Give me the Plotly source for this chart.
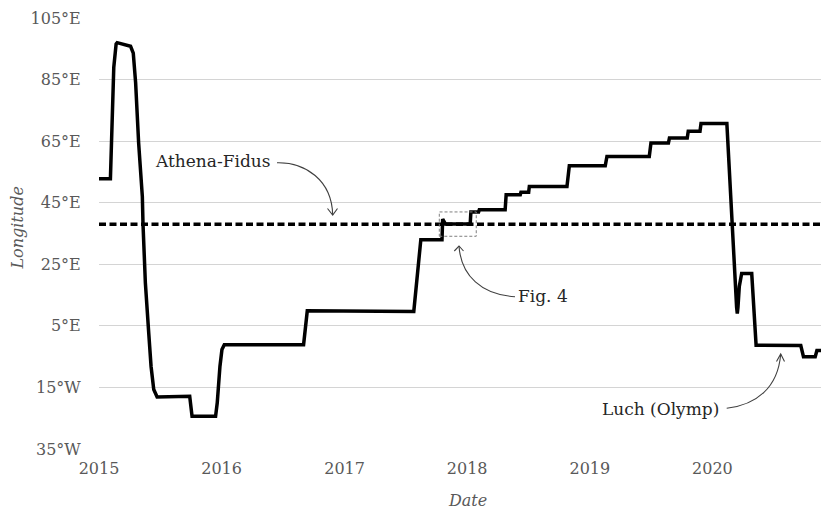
import plotly.graph_objects as go

# ---- data ----
dates = [
    "2015-01-01", "2015-02-04", "2015-02-14", "2015-02-21", "2015-02-24", "2015-04-05",
    "2015-04-13", "2015-04-20", "2015-04-29", "2015-05-10", "2015-05-12", "2015-05-19",
    "2015-05-29", "2015-06-05", "2015-06-13", "2015-06-23", "2015-09-28", "2015-10-05",
    "2015-12-14", "2015-12-19", "2015-12-27", "2016-01-02", "2016-01-09", "2016-09-01",
    "2016-09-12", "2017-07-26", "2017-08-16", "2017-10-18", "2017-10-20", "2017-10-28",
    "2018-01-10", "2018-01-12", "2018-02-04", "2018-02-06", "2018-04-24", "2018-04-27",
    "2018-06-08", "2018-06-10", "2018-07-03", "2018-07-05", "2018-10-25", "2018-11-01",
    "2019-02-16", "2019-02-21", "2019-06-27", "2019-07-02", "2019-08-23", "2019-08-26",
    "2019-10-18", "2019-10-21", "2019-11-25", "2019-11-28", "2020-02-13", "2020-02-23",
    "2020-02-27", "2020-03-08", "2020-03-13", "2020-03-15", "2020-03-17", "2020-03-21",
    "2020-03-28", "2020-04-27", "2020-05-02", "2020-05-10", "2020-09-20", "2020-09-28",
    "2020-11-02", "2020-11-07", "2020-12-31",
]
longitude = [
    52.8, 52.8, 89.0, 96.6, 97.0, 95.8,
    93.6, 84.0, 64.4, 47.0, 38.0, 19.0,
    2.7, -8.2, -15.7, -18.1, -17.9, -24.4,
    -24.4, -20.0, -8.2, -2.7, -1.1, -1.1,
    9.9, 9.7, 33.0, 33.0, 39.7, 38.1,
    38.1, 42.0, 42.0, 42.7, 42.7, 47.6,
    47.6, 48.4, 48.4, 50.3, 50.3, 57.0,
    57.0, 60.0, 60.0, 64.4, 64.4, 66.0,
    66.0, 68.2, 68.2, 70.7, 70.7, 49.0,
    38.0, 20.0, 11.0, 9.0, 11.0, 17.8,
    22.0, 22.0, 14.5, -1.3, -1.4, -5.0,
    -5.0, -3.0, -3.0,
]
athena_dates = ["2015-01-01", "2020-12-31"]
athena_lon = [38, 38]

y_tickvals = [-35, -15, 5, 25, 45, 65, 85, 105]
y_ticktext = ["35°W", "15°W", "5°E", "25°E", "45°E", "65°E", "85°E", "105°E"]
x_tickvals = ["2015-01-01", "2016-01-01", "2017-01-01", "2018-01-01", "2019-01-01", "2020-01-01"]
x_ticktext = ["2015", "2016", "2017", "2018", "2019", "2020"]

fig4_box_x = ["2017-10-10", "2018-01-28"]
fig4_box_y = [34.1, 42.0]

# ---- layout (page pixels; the figure sits at an 8px page offset) ----
OFF = 8
W, H = 829 - OFF, 511 - OFF
L, R, T, B = 99, 829, 18, 449   # plot area in page pixels
def px(x):
    return (x - L) / (R - L)
def py(y):
    return (B - y) / (B - T)

SERIF = "DejaVu Serif"

fig = go.Figure()
fig.add_trace(go.Scatter(x=athena_dates, y=athena_lon, mode="lines",
                         line=dict(color="black", width=3.5, dash="7px,3.5px"),
                         hoverinfo="skip", showlegend=False))
fig.add_trace(go.Scatter(x=dates, y=longitude, mode="lines",
                         line=dict(color="black", width=3.5),
                         showlegend=False))

shapes = []
# Fig. 4 dashed box
shapes.append(dict(type="rect", xref="x", yref="y",
                   x0=fig4_box_x[0], x1=fig4_box_x[1], y0=fig4_box_y[0], y1=fig4_box_y[1],
                   line=dict(color="#7f7f7f", width=1, dash="3px,2px")))

def curve(p0, c1, c2, p3, arm1, arm2):
    path = "M {},{} C {},{} {},{} {},{}".format(px(p0[0]), py(p0[1]), px(c1[0]), py(c1[1]),
                                               px(c2[0]), py(c2[1]), px(p3[0]), py(p3[1]))
    head = "M {},{} L {},{} L {},{}".format(px(arm1[0]), py(arm1[1]), px(p3[0]), py(p3[1]),
                                          px(arm2[0]), py(arm2[1]))
    for p in (path, head):
        shapes.append(dict(type="path", xref="paper", yref="paper", path=p,
                           line=dict(color="#404040", width=1.1)))

curve((277, 162.7), (305, 162), (332, 180), (332.7, 215), (327.5, 208.5), (337.5, 208.5))
curve((515, 296.7), (482, 295), (461, 276), (459, 246), (454.3, 251), (463.5, 251))
curve((726.7, 408.3), (756, 405), (778, 388), (780.7, 354), (776.5, 361.5), (784.5, 361.5))

ann_font = dict(family=SERIF, size=17, color="#262626")
annotations = [
    dict(text="Athena-Fidus", x=px(212.8), y=py(161), xref="paper", yref="paper",
         showarrow=False, xanchor="center", yanchor="middle", font=ann_font),
    dict(text="Fig. 4", x=px(542.5), y=py(296), xref="paper", yref="paper",
         showarrow=False, xanchor="center", yanchor="middle", font=ann_font),
    dict(text="Luch (Olymp)", x=px(660), y=py(408.5), xref="paper", yref="paper",
         showarrow=False, xanchor="center", yanchor="middle", font=ann_font),
    # axis titles
    dict(text="<i>Date</i>", x=px(467.5), y=py(500), xref="paper", yref="paper",
         showarrow=False, xanchor="center", yanchor="middle",
         font=dict(family=SERIF, size=16, color="#595959")),
    dict(text="<i>Longitude</i>", x=px(16.5), y=py(228), xref="paper", yref="paper",
         showarrow=False, xanchor="center", yanchor="middle", textangle=-90,
         font=dict(family=SERIF, size=16, color="#595959")),
]

fig.update_layout(
    template="none",
    width=W, height=H,
    margin=dict(l=L - OFF, r=829 - R, t=T - OFF, b=H - (B - OFF), pad=0),
    paper_bgcolor="white", plot_bgcolor="white",
    shapes=shapes, annotations=annotations,
    font=dict(family=SERIF, color="#595959"),
    xaxis=dict(type="date", range=["2015-01-01", "2020-12-13"], automargin=False,
               tickvals=x_tickvals, ticktext=x_ticktext,
               showgrid=False, zeroline=False, showline=False,
               ticks="outside", ticklen=5, tickcolor="rgba(0,0,0,0)",
               tickfont=dict(family=SERIF, size=16, color="#595959")),
    yaxis=dict(range=[-35, 105], tickvals=y_tickvals, ticktext=y_ticktext, automargin=False,
               showgrid=True, gridcolor="#d4d4d4", gridwidth=1,
               zeroline=False, showline=False,
               ticks="outside", ticklen=14, tickcolor="rgba(0,0,0,0)",
               tickfont=dict(family=SERIF, size=16, color="#595959")),
)

fig.write_html("out.html")
